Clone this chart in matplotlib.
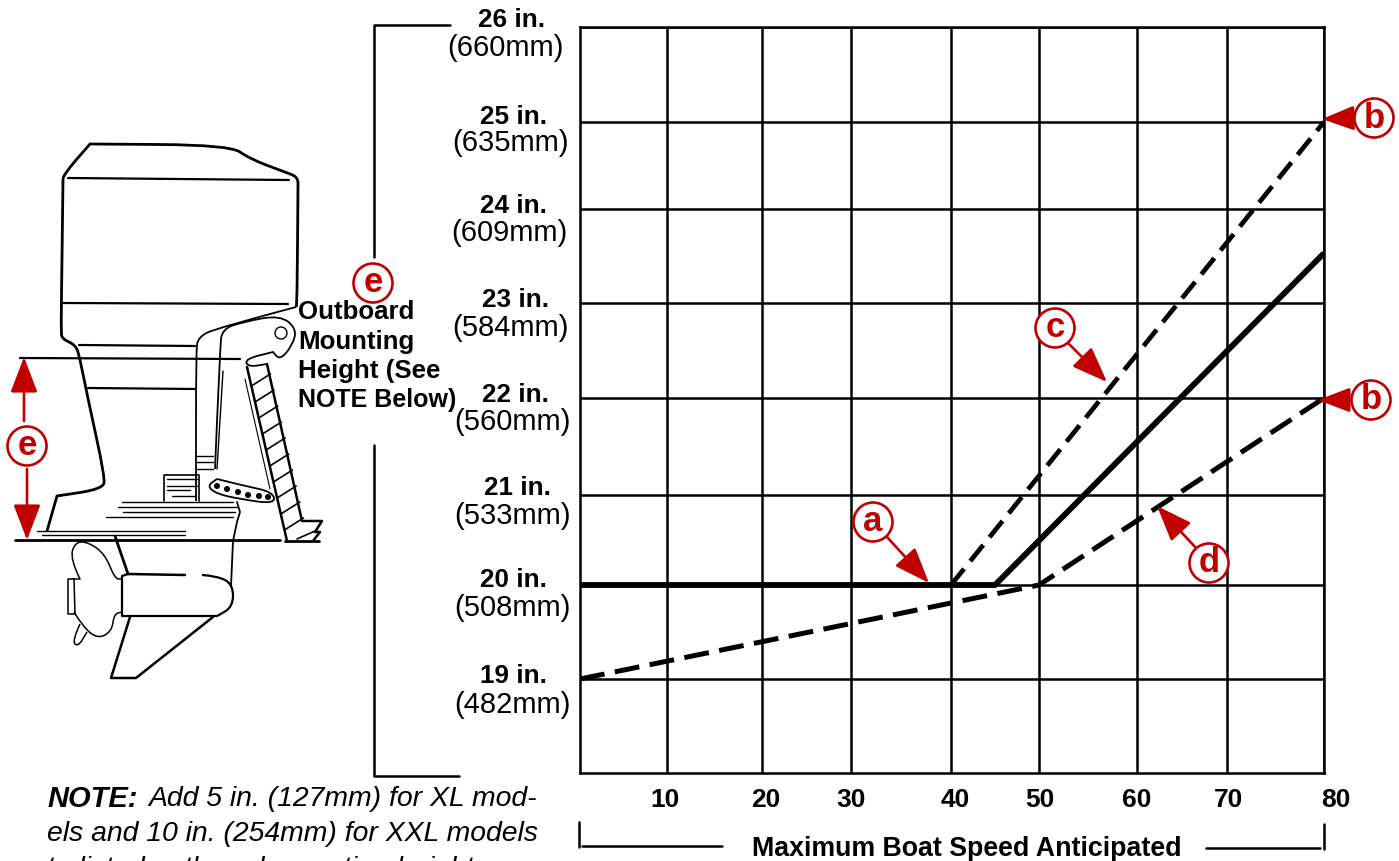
import matplotlib
matplotlib.use("Agg")
import matplotlib.pyplot as plt
import numpy as np
from matplotlib.patches import Circle, PathPatch
from matplotlib.path import Path
from matplotlib.transforms import ScaledTranslation

plt.rcParams['font.family'] = ['Liberation Sans', 'DejaVu Sans']

# chart values
speed_ticks = [10, 20, 30, 40, 50, 60, 70, 80]
height_ticks = [19, 20, 21, 22, 23, 24, 25, 26]
height_in = ["19 in.", "20 in.", "21 in.", "22 in.", "23 in.", "24 in.", "25 in.", "26 in."]
height_mm = ["(482mm)", "(508mm)", "(533mm)", "(560mm)", "(584mm)", "(609mm)", "(635mm)", "(660mm)"]

middle_speed = [0, 45, 80]
middle_height = [20, 20, 23.53]
upper_speed = [40, 80]
upper_height = [20, 25]
lower_speed = [0, 50, 80]
lower_height = [19, 20, 22]

# the printed grid is not evenly spaced, so the scales follow it
x_vals = [0, 10, 20, 30, 40, 50, 60, 70, 80]
x_px = [580, 667, 762, 851, 951, 1039, 1137, 1227, 1324]
y_vals = [18, 19, 20, 21, 22, 23, 24, 25, 26]
y_px = [774, 680, 586, 496, 399, 304, 210, 123, 28]

RED = "#c00000"
W, H = 1399, 862

fig = plt.figure(figsize=(W / 100, H / 100), dpi=100)
ax = fig.add_axes([580 / W, 1 - 774 / H, 744 / W, 746 / H])
ax.set_xscale('function', functions=(lambda v: np.interp(v, x_vals, x_px),
                                     lambda v: np.interp(v, x_px, x_vals)))
neg_y = [-p for p in y_px]
ax.set_yscale('function', functions=(lambda v: np.interp(v, y_vals, neg_y),
                                     lambda v: np.interp(v, neg_y, y_vals)))
ax.set_xlim(0, 80)
ax.set_ylim(18, 26)
ax.set_xticks(speed_ticks)
ax.set_xticklabels([str(s) for s in speed_ticks], fontsize=19, fontweight='bold')
ax.set_yticks(height_ticks)
ax.set_yticklabels([])
ax.minorticks_off()
ax.tick_params(length=0, pad=10)
ax.grid(True, color='black', lw=1.8)
ax.set_axisbelow(True)
for s in ax.spines.values():
    s.set_linewidth(1.8)

# nudge the labels that sit off their grid line
x_nudge = [-2, 4, 0, 4, 1, 0, 1, 12]
for lab, dx in zip(ax.get_xticklabels(), x_nudge):
    lab.set_transform(lab.get_transform() + ScaledTranslation(dx / 100, 0, fig.dpi_scale_trans))

ax.plot(middle_speed, middle_height, color='black', lw=4.2, solid_capstyle='butt', solid_joinstyle='miter')
ax.plot(upper_speed, upper_height, color='black', lw=3.4, dashes=(4.4, 2.1))
ax.plot(lower_speed, lower_height, color='black', lw=3.6, dashes=(5.0, 2.1))

# everything round the chart is placed in picture pixels
ov = fig.add_axes([0, 0, 1, 1])
ov.set_xlim(0, W)
ov.set_ylim(H, 0)
ov.axis('off')
ov.patch.set_alpha(0)

# height labels
in_x = [513, 513, 517, 515, 515, 513, 514, 512]
in_y = [676, 580, 488, 395, 300, 206, 117, 20]
mm_x = [512, 512, 512, 512, 510, 509, 510, 505]
mm_y = [705, 608, 516, 422, 328, 233, 143, 48]
for i in range(len(height_ticks)):
    ov.text(in_x[i], in_y[i], height_in[i], ha='center', va='center', fontsize=18.8, fontweight='bold')
    ov.text(mm_x[i], mm_y[i], height_mm[i], ha='center', va='center', fontsize=21)


def line(pts, lw=1.6, color='black'):
    xs, ys = zip(*pts)
    ov.plot(xs, ys, color=color, lw=lw, solid_capstyle='round', solid_joinstyle='round')


def curve(pts, lw=1.2):
    # quadratic spline through the midpoints, for the rounded parts of the drawing
    verts = [pts[0]]
    codes = [Path.MOVETO]
    for a, b in zip(pts[1:-1], pts[2:]):
        verts += [a, ((a[0] + b[0]) / 2, (a[1] + b[1]) / 2)]
        codes += [Path.CURVE3, Path.CURVE3]
    verts.append(pts[-1])
    codes.append(Path.LINETO)
    ov.add_patch(PathPatch(Path(verts, codes), fc='none', ec='black', lw=lw))


# brackets
line([(450, 26), (374, 26), (374, 258)], 1.8)
line([(374, 446), (374, 777), (459, 777)], 1.8)
line([(579, 823), (579, 848)], 1.8)
line([(582, 847), (722, 847)], 1.8)
line([(1206, 849), (1320, 849)], 1.8)
line([(1324, 825), (1324, 850)], 1.8)
ov.text(967, 849, "Maximum Boat Speed Anticipated", ha='center', va='center', fontsize=19.3, fontweight='bold')

# outboard drawing
curve([(63, 180), (63, 176), (90, 145), (90, 145), (230, 146), (250, 160), (285, 173), (298, 178), (298, 190),
       (297, 305), (296, 308)], 2)
curve([(63, 180), (62, 260), (61, 332), (62, 340), (76, 346), (80, 360), (88, 400), (105, 478), (103, 490),
       (57, 497), (57, 497), (47, 532)], 2)
line([(68, 179), (289, 181)])
line([(63, 304), (288, 305)])
line([(79, 346), (195, 347)])
line([(88, 389), (195, 390)])
line([(20, 359), (240, 360)])
curve([(296, 308), (217, 329), (198, 338), (196, 353), (196, 502)], 1.3)
curve([(215, 470), (220, 350), (222, 330), (243, 323), (280, 316), (297, 330), (292, 347), (280, 361),
       (273, 353), (273, 353), (245, 360), (248, 368), (267, 365)], 1.3)
line([(223, 372), (217, 470)], 1)
ov.add_patch(Circle((281, 334), 6, fc='white', ec='black', lw=1))
line([(247, 368), (287, 542)], 1.8)
line([(267, 365), (302, 522), (322, 522), (315, 533), (320, 533), (313, 542)], 1.8)
line([(245, 380), (270, 490)], 0.8)
for y0 in [387, 403, 419, 435, 451, 467, 483, 499, 515, 531]:
    x0 = 247 + (y0 - 368) * 0.23
    line([(x0, y0), (x0 + 19, y0 - 12)], 1.2)
line([(297, 540), (315, 532)], 1.2)
line([(15, 541), (280, 541)], 2)
line([(285, 542), (319, 542)], 2)
for pts in [[(122, 503), (233, 503)], [(118, 508), (237, 508)], [(123, 513), (235, 513)], [(106, 518), (233, 518)],
            [(37, 532), (185, 532)], [(42, 536), (185, 536)], [(196, 457), (213, 457)], [(196, 463), (213, 463)],
            [(196, 470), (213, 470)], [(167, 480), (198, 480)], [(167, 487), (197, 487)], [(167, 491), (190, 491)],
            [(172, 497), (196, 497)]]:
    line(pts, 1)
line([(164, 502), (164, 476), (199, 476), (199, 502)], 1.2)
curve([(217, 480), (245, 487), (273, 493), (275, 505), (240, 500), (217, 495), (207, 487), (217, 480)], 1.3)
for cx, cy in [(217, 487), (227, 490), (238, 493), (248, 496), (259, 497), (268, 498)]:
    ov.add_patch(Circle((cx, cy), 3, fc='black', ec='none'))
line([(237, 503), (240, 513), (237, 523), (233, 542), (231, 587)], 1.3)
line([(115, 537), (128, 575)], 2)
line([(128, 575), (185, 576)], 1.8)
curve([(202, 576), (217, 577), (233, 585), (233, 608), (217, 617), (217, 617), (122, 617)], 1.6)
line([(122, 617), (122, 577), (128, 575)], 1.6)
line([(130, 618), (111, 679), (136, 679), (213, 618)], 1.8)
curve([(80, 580), (70, 560), (75, 543), (88, 543), (105, 555), (115, 580), (122, 580)], 1.1)
line([(80, 580), (68, 580), (68, 615), (75, 615), (74, 580)], 1.1)
curve([(74, 613), (83, 628), (98, 640), (112, 632), (114, 615), (122, 613)], 1.1)
curve([(80, 625), (72, 642), (78, 648), (87, 633)], 1.1)

ov.text(298, 312, "Outboard", ha='left', va='center', fontsize=18.6, fontweight='bold')
ov.text(298, 342, "Mounting", ha='left', va='center', fontsize=18.6, fontweight='bold')
ov.text(298, 371, "Height (See", ha='left', va='center', fontsize=18.6, fontweight='bold')
ov.text(298, 400, "NOTE Below)", ha='left', va='center', fontsize=18, fontweight='bold')

# note, cut off by the lower edge as in the print
ov.text(47, 799, "NOTE:", ha='left', va='center', fontsize=21, fontweight='bold', fontstyle='italic')
ov.text(148, 799, "Add 5 in. (127mm) for XL mod-", ha='left', va='center', fontsize=20.4, fontstyle='italic')
ov.text(47, 834, "els and 10 in. (254mm) for XXL models", ha='left', va='center', fontsize=20.4, fontstyle='italic')
ov.text(47, 869, "to listed outboard mounting height.", ha='left', va='center', fontsize=20.4, fontstyle='italic')


# red callouts
def arrow(tail, tip, scale=1.0):
    ov.annotate("", xy=tip, xytext=tail, zorder=5,
                arrowprops=dict(arrowstyle='-|>,head_length=%.2f,head_width=%.2f' % (1.1 * scale, 0.42 * scale),
                                color=RED, lw=1.9, mutation_scale=20, shrinkA=0, shrinkB=0))


def bubble(cx, cy, letter):
    ov.add_patch(Circle((cx, cy), 19.5, fc='white', ec=RED, lw=1.9, zorder=6))
    ov.text(cx, cy - 1, letter, color=RED, ha='center', va='center', fontsize=25, fontweight='bold', zorder=7)


arrow((887, 538), (929, 584))
arrow((1068, 344), (1107, 383))
arrow((1356, 119), (1322, 120), 0.9)
arrow((1353, 401), (1318, 401), 0.9)
arrow((1196, 549), (1157, 507))
arrow((24, 422), (24, 358))
arrow((27, 470), (27, 541))
bubble(873, 523, "a")
bubble(1055, 329, "c")
bubble(1374, 119, "b")
bubble(1371, 401, "b")
bubble(1209, 564, "d")
bubble(373, 284, "e")
bubble(27, 447, "e")

fig.savefig("out.png", dpi=100)
